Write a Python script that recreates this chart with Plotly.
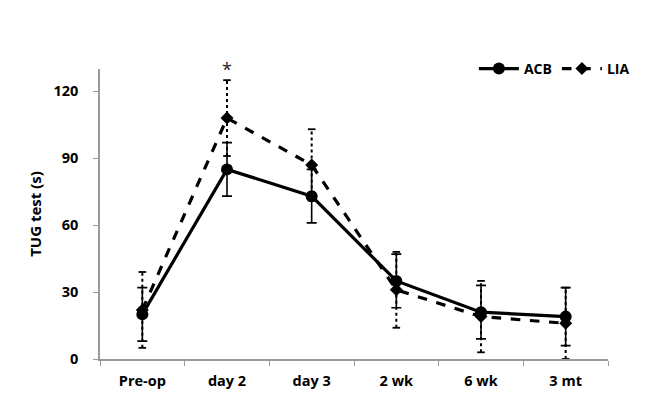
import plotly.graph_objects as go

categories = ["Pre-op", "day 2", "day 3", "2 wk", "6 wk", "3 mt"]
acb_mean = [20, 85, 73, 35, 21, 19]
acb_sd = [12, 12, 12, 12, 12, 13]
lia_mean = [22, 108, 87, 31, 19, 16]
lia_sd = [17, 17, 16, 17, 16, 16]
y_ticks = [0, 30, 60, 90, 120]

xs = list(range(len(categories)))
font_family = "Open Sans, Noto Sans, DejaVu Sans, sans-serif"

fig = go.Figure()

# LIA error bars drawn dotted (vertical stems + caps)
stem_x, stem_y, cap_x, cap_y = [], [], [], []
cw = 0.045
for x, m, s in zip(xs, lia_mean, lia_sd):
    stem_x += [x, x, None]
    stem_y += [max(m - s, 0), m + s, None]
    for v in (max(m - s, 0), m + s):
        cap_x += [x - cw, x + cw, None]
        cap_y += [v, v, None]

fig.add_trace(go.Scatter(x=stem_x, y=stem_y, mode="lines",
                         line=dict(color="black", width=2, dash="dot"),
                         showlegend=False, hoverinfo="skip"))
fig.add_trace(go.Scatter(x=cap_x, y=cap_y, mode="lines",
                         line=dict(color="black", width=1.8),
                         showlegend=False, hoverinfo="skip"))

fig.add_trace(go.Scatter(
    x=xs, y=acb_mean, name="ACB", mode="lines+markers",
    line=dict(color="black", width=3.2),
    marker=dict(symbol="circle", size=12, color="black"),
    error_y=dict(type="data", array=acb_sd, color="black", thickness=1.6, width=5),
))
fig.add_trace(go.Scatter(
    x=xs, y=lia_mean, name="LIA", mode="lines+markers",
    line=dict(color="black", width=3.2, dash="dash"),
    marker=dict(symbol="diamond", size=10, color="black"),
))

fig.add_annotation(x=1, y=130, text="*", showarrow=False,
                   font=dict(size=18, color="#222", family=font_family),
                   yanchor="middle")

fig.update_layout(
    width=648, height=419,
    margin=dict(l=92, r=48, t=61, b=68, autoexpand=False),
    paper_bgcolor="white", plot_bgcolor="white",
    font=dict(family=font_family, color="black", size=14),
    legend=dict(orientation="h", x=1.053, xanchor="right", y=1.0, yanchor="middle",
                font=dict(size=14, family=font_family, weight="bold"),
                itemwidth=40, bgcolor="rgba(0,0,0,0)"),
    xaxis=dict(range=[-0.5, 5.5], tickmode="array", tickvals=xs, ticktext=categories,
               showgrid=False, zeroline=False, showline=True, linecolor="#9a9a9a",
               linewidth=1.5, ticks="", tickfont=dict(size=14.5, weight="bold"),
               ticklabelstandoff=8,
               minor=dict(tickmode="array", tickvals=[x - 0.5 for x in xs] + [5.5],
                          ticks="outside", ticklen=5, tickcolor="#9a9a9a")),
    yaxis=dict(range=[0, 130], tickvals=y_ticks, showgrid=False, zeroline=False,
               showline=True, linecolor="#9a9a9a", linewidth=1.5,
               ticks="outside", ticklen=5, tickcolor="#9a9a9a",
               tickfont=dict(size=14.5, weight="bold"), ticklabelstandoff=12,
               title=dict(text="TUG test (s)", font=dict(size=15, weight="bold"),
                          standoff=8)),
)

fig.write_html("out.html")
